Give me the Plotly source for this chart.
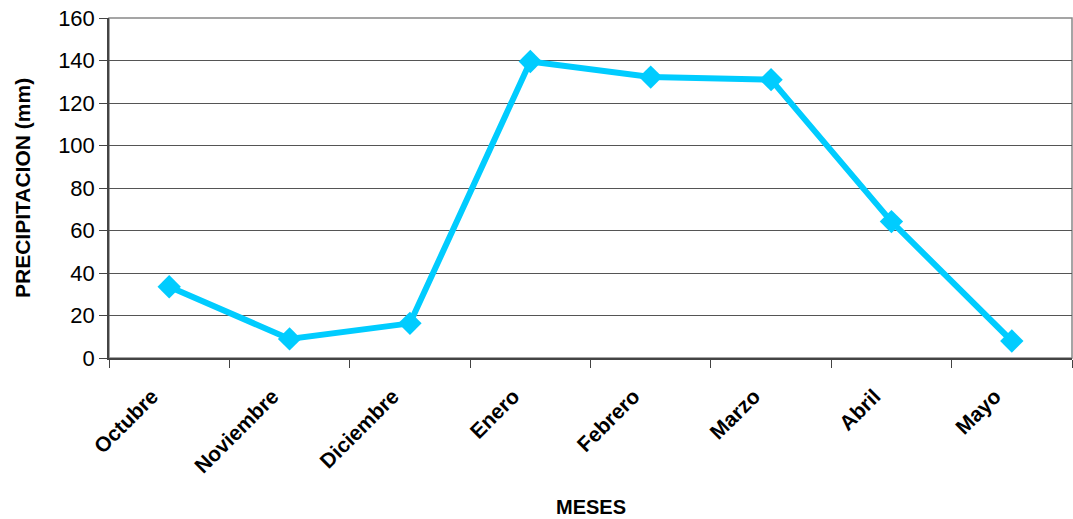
import plotly.graph_objects as go

months = ["Octubre", "Noviembre", "Diciembre", "Enero", "Febrero", "Marzo", "Abril", "Mayo"]
precip = [33.5, 9, 16.3, 139.5, 132.2, 131, 64.2, 8]
y_ticks = [0, 20, 40, 60, 80, 100, 120, 140, 160]

fig = go.Figure()
fig.add_trace(go.Scatter(
    x=months, y=precip, mode="lines+markers",
    line=dict(color="#00CCFF", width=6),
    marker=dict(symbol="diamond", size=18, color="#00CCFF"),
    cliponaxis=False, showlegend=False,
))

fig.update_layout(
    width=1073, height=519,
    margin=dict(l=109, r=1, t=18, b=161),
    paper_bgcolor="white", plot_bgcolor="white",
    font=dict(family="Liberation Sans, Arial, sans-serif", color="black"),
    xaxis=dict(
        type="category", range=[-0.5, 7.5],
        tickson="boundaries", ticks="outside", ticklen=8, tickcolor="#444",
        showgrid=False, showline=True, linecolor="#444", linewidth=1.5,
        tickangle=-45, tickfont=dict(size=21, weight="bold"),
        ticklabelstandoff=16, ticklabelshift=-17,
    ),
    yaxis=dict(
        range=[0, 160], tickvals=y_ticks,
        ticks="outside", ticklen=8, tickcolor="#444",
        showgrid=True, gridcolor="#555", gridwidth=1,
        showline=True, linecolor="#444", linewidth=1.5,
        zeroline=False, tickfont=dict(size=22),
    ),
    shapes=[dict(type="rect", xref="paper", yref="paper", x0=0, x1=1, y0=0, y1=1,
                 line=dict(color="#888", width=1.5), layer="below")],
    annotations=[
        dict(text="<b>MESES</b>", xref="paper", yref="paper", x=0.5, y=0,
             yshift=-149, showarrow=False, font=dict(size=20), yanchor="middle"),
        dict(text="<b>PRECIPITACION (mm)</b>", xref="paper", yref="paper", x=0, y=0.5,
             xshift=-87, textangle=-90, showarrow=False, font=dict(size=21),
             xanchor="center", yanchor="middle"),
    ],
)

fig.write_html("out.html")
